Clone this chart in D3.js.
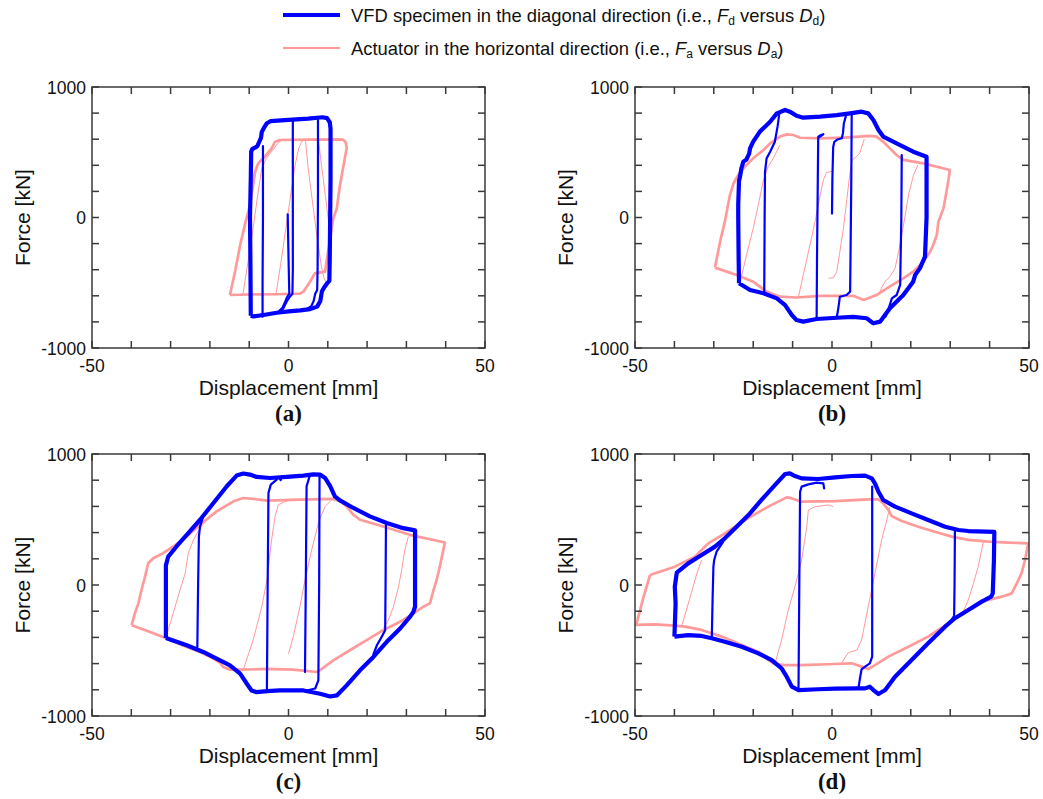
<!DOCTYPE html>
<html>
<head>
<meta charset="utf-8">
<script src="https://cdn.jsdelivr.net/npm/d3@7"></script>
<style>
  html, body { margin: 0; padding: 0; background: #fff; }
  svg { display: block; font-family: Arial, "Liberation Sans", sans-serif; }
</style>
</head>
<body>
<svg id="chart" width="1043" height="799"></svg>
<script>
// ---- axes ----
const xDomain = [-50, 50];
const yDomain = [-1000, 1000];
const xTicks = [-50, -40, -30, -20, -10, 0, 10, 20, 30, 40, 50];
const yTicks = [-1000, -800, -600, -400, -200, 0, 200, 400, 600, 800, 1000];
const xTickLabels = [-50, 0, 50];
const yTickLabels = [-1000, 0, 1000];
const xTitle = "Displacement [mm]";
const yTitle = "Force [kN]";
const panelLabels = ["(a)", "(b)", "(c)", "(d)"];

// ---- panel (a): VFD loop (Fd vs Dd) and actuator loop (Fa vs Da) ----
const vfdLoopA = [[-9.6,-752],[-9.7,-300],[-9.8,0],[-9.6,300],[-9.5,505],[-9.2,525],[-8.5,535],[-7.9,548],[-7.6,570],[-7.0,610],[-6.8,655],[-6.1,695],[-5.5,722],[-4.6,738],[0,748],[5,758],[8.6,768],[9.8,762],[10.5,730],[10.7,680],[10.7,300],[10.6,0],[10.5,-300],[10.4,-485],[9.8,-505],[9.2,-530],[8.5,-565],[8.1,-640],[7.3,-683],[5.5,-702],[3,-712],[0,-720],[-3,-730],[-6,-745],[-9,-758],[-9.6,-752]];
const vfdBranchesA = [
  [[-0.2,25],[0,-300],[0.2,-585],[-0.4,-612],[-0.9,-650],[-1.5,-690],[-2.6,-725],[-4,-738]],
  [[1.1,748],[1.1,200],[1.1,-400],[1.0,-585],[0.4,-605],[-0.4,-640],[-1.2,-690],[-2.0,-725]],
  [[7.5,762],[7.5,200],[7.4,-400],[7.3,-555],[6.8,-585],[6.4,-640],[5.8,-680],[4.5,-705]],
  [[-6.5,548],[-6.5,0],[-6.6,-500],[-6.6,-760]]
];
const actLoopA = [[-14.9,-594],[-13.5,-400],[-12.3,-211],[-10.9,-32],[-9.8,96],[-8.5,351],[-7.7,415],[-6.0,466],[-4.3,530],[-3.4,581],[-2.2,594],[5,596],[12,598],[13.9,596],[14.6,575],[14.8,530],[13.1,249],[12.3,70],[11.4,-7],[10.4,-200],[9.3,-415],[6.7,-428],[5.5,-492],[3.8,-568],[2.9,-584],[-3,-588],[-10,-590],[-14.9,-594]];
const actBranchesA = [
  [[-11.6,-590],[-10.2,-320],[-8.9,-60],[-7.8,180],[-6.8,380],[-5.6,455],[-4.2,510],[-2.8,565],[-1.8,592]],
  [[-3.2,-588],[-2.0,-360],[-0.8,-110],[0.4,140],[1.6,390],[2.6,530],[3.4,585],[4.3,596]],
  [[4.3,596],[5.0,380],[6.1,120],[7.2,-140],[8.4,-380],[9.0,-460],[9.6,-500]],
  [[7.6,597],[8.4,400],[9.4,160],[10.4,-80]]
];

// ---- panel (b) ----
const vfdLoopB = [[-23.6,-504],[-23.7,-300],[-23.8,0],[-23.8,100],[-23.6,280],[-23.3,320],[-23.0,377],[-22.5,428],[-21.7,445],[-21.0,492],[-20.8,530],[-20.0,581],[-18.3,658],[-15.7,734],[-14.0,798],[-11.9,824],[-10.7,811],[-9.0,780],[-7.3,765],[-3.0,773],[1.2,785],[4.6,798],[7.5,811],[9.2,798],[10.5,747],[11.8,671],[13.0,620],[16.4,568],[20.6,504],[24.0,466],[24.0,0],[23.6,-300],[22.3,-390],[21.1,-441],[20.6,-492],[18.1,-594],[14.7,-696],[12.2,-798],[10.5,-811],[8.8,-772],[5.4,-762],[1.2,-768],[-3.9,-778],[-7.3,-798],[-9.0,-786],[-10.2,-747],[-11.9,-671],[-14.0,-620],[-17.4,-581],[-20.8,-556],[-23.6,-504]];
const vfdBranchesB = [
  [[0,30],[0.1,300],[0.3,540],[0.6,580],[1.4,598],[2.5,608],[2.8,650],[3.0,720],[3.5,775]],
  [[5.0,790],[4.9,300],[4.7,-300],[4.6,-568],[3.7,-594],[2.0,-607],[1.6,-696],[1.2,-765]],
  [[-3.5,620],[-2.8,632],[-2.2,638],[-3.5,610],[-3.6,300],[-3.8,-300],[-3.9,-774]],
  [[-13.4,790],[-13.8,700],[-14.5,581],[-15.7,504],[-16.6,453],[-17.0,351],[-17.1,0],[-17.2,-581]],
  [[17.7,479],[17.6,0],[17.3,-517],[16.4,-594],[15.2,-620],[14.4,-696],[13.6,-760]]
];
const actLoopB = [[-29.7,-384],[-28.4,-185],[-27.2,-32],[-25.9,172],[-25.0,262],[-23.8,326],[-22.1,390],[-20.0,454],[-17.4,517],[-15.7,568],[-13.2,620],[-11.5,637],[-9.8,632],[-8.1,611],[-3.0,607],[3,612],[9.6,626],[11.3,620],[13.0,581],[14.7,530],[16.4,479],[18.1,441],[23.2,415],[29.9,364],[29.5,275],[28.3,70],[27.0,-32],[26.6,-134],[25.7,-211],[24.9,-262],[23.2,-339],[20.6,-415],[18.1,-466],[13.9,-543],[11.3,-594],[8.0,-632],[5.4,-600],[-3.0,-600],[-9.0,-613],[-13.2,-607],[-16.6,-568],[-20.0,-492],[-24.2,-441],[-29.7,-384]];
const actBranchesB = [
  [[-23.0,-454],[-21.7,-288],[-20.0,-83],[-18.7,96],[-17.4,287],[-16.2,390],[-14.9,454],[-13.2,556]],
  [[-8.5,-607],[-7.3,-441],[-5.6,-211],[-4.3,-32],[-3.5,96],[-2.2,287],[-1.4,345],[0.3,356]],
  [[-0.9,-466],[0.4,-461],[1.2,-415],[2.0,-262],[2.9,-83],[3.7,121],[4.5,326],[5.1,441],[6.2,466],[7.0,492],[8.2,600]],
  [[11.7,-594],[13.4,-492],[14.7,-454],[16.0,-390],[16.9,-262],[17.7,-134],[18.6,19],[19.4,172],[20.7,326],[21.8,402]]
];

// ---- panel (c) ----
const vfdLoopC = [[-31.2,-404],[-31.2,-100],[-31.2,150],[-30.6,217],[-28.5,294],[-25.9,383],[-22.5,498],[-19.1,626],[-15.7,754],[-13.2,835],[-11.5,851],[-9.8,843],[-8.1,825],[-4.7,817],[-0.4,825],[3.8,835],[6.3,845],[8.0,843],[9.3,817],[10.6,754],[11.8,677],[13.1,646],[16.5,588],[20.7,524],[25.0,473],[29.2,434],[32.2,417],[32.2,-166],[31.8,-204],[30.9,-243],[28.4,-332],[25.0,-434],[21.6,-549],[18.2,-651],[14.8,-766],[12.3,-843],[10.6,-851],[8.0,-830],[3.8,-805],[-2.2,-805],[-5.5,-810],[-8.1,-818],[-9.4,-805],[-10.6,-754],[-12.3,-677],[-14.9,-613],[-18.3,-562],[-21.7,-511],[-25.9,-460],[-31.2,-404]];
const vfdBranchesC = [
  [[-19.5,613],[-21.7,524],[-22.5,447],[-22.8,370],[-23.0,0],[-23.2,-473]],
  [[-3.0,805],[-4.5,766],[-5.1,703],[-5.3,0],[-5.5,-818]],
  [[-2.2,808],[-1.7,830],[-2.0,800]],
  [[5.5,843],[4.6,754],[4.4,0],[4.2,-664]],
  [[7.9,843],[7.8,0],[7.6,-728],[6.8,-790],[4.6,-805]],
  [[24.8,460],[24.7,0],[24.6,-345],[23.7,-396],[22.5,-460],[21.6,-530]]
];
const actLoopC = [[-39.9,-307],[-39.1,-217],[-38.2,-140],[-37.4,-38],[-36.5,64],[-35.7,166],[-34.4,204],[-31.9,243],[-29.3,294],[-25.9,370],[-22.5,460],[-18.3,562],[-14.0,639],[-11.5,664],[-8.9,657],[-5.5,644],[2.9,651],[11.4,657],[13.1,639],[14.8,600],[16.5,536],[18.2,498],[24.1,447],[30.9,383],[39.8,324],[39.4,268],[38.5,140],[37.7,38],[36.9,-38],[36.0,-140],[34.3,-166],[31.8,-217],[28.4,-281],[24.1,-345],[19.9,-421],[15.6,-498],[11.4,-575],[8.0,-651],[7.2,-664],[1.2,-646],[-5.5,-641],[-12.3,-646],[-14.9,-646],[-16.6,-626],[-17.4,-595],[-19.1,-562],[-22.5,-511],[-25.9,-473],[-31.0,-409],[-35.2,-358],[-39.9,-307]];
const actBranchesC = [
  [[-31.0,-383],[-29.3,-211],[-27.6,-38],[-26.3,89],[-25.5,243],[-24.2,345],[-22.5,434],[-20.8,498]],
  [[-11.5,-646],[-9.0,-421],[-6.8,-166],[-5.5,38],[-4.3,345],[-3.4,524],[-2.6,613],[-1.3,631],[-0.3,639]],
  [[0.0,-524],[1.2,-396],[2.9,-166],[4.2,38],[5.9,268],[7.6,473],[9.3,600],[10.6,639]],
  [[24.1,-332],[25.4,-268],[26.7,-166],[28.0,-13],[28.8,115],[29.6,268],[30.5,370]]
];

// ---- panel (d) ----
const vfdLoopD = [[-40.0,-394],[-39.9,-318],[-39.7,-140],[-39.9,-13],[-39.4,94],[-36.5,165],[-33.1,229],[-29.7,293],[-27.2,356],[-24.6,433],[-21.2,534],[-17.9,649],[-14.5,763],[-11.9,847],[-10.7,852],[-9.4,832],[-7.7,814],[-3.5,809],[0.8,822],[5.0,832],[8.4,835],[10.1,814],[10.9,776],[11.8,712],[13.0,649],[16.0,598],[20.2,547],[24.4,496],[28.7,445],[32.1,420],[34.6,412],[41.2,405],[41.1,191],[40.8,-64],[40.4,-89],[38.0,-127],[34.6,-191],[31.2,-254],[28.7,-318],[24.4,-445],[20.2,-573],[16.0,-700],[13.5,-802],[11.8,-832],[10.5,-802],[9.6,-776],[8.4,-789],[6.7,-789],[0.8,-791],[-3.5,-796],[-8.5,-802],[-10.2,-776],[-11.5,-700],[-12.8,-636],[-15.3,-573],[-18.7,-522],[-22.9,-471],[-27.2,-433],[-30.5,-407],[-33.1,-389],[-36.5,-382],[-40.0,-394]];
const vfdBranchesD = [
  [[-27.6,331],[-29.3,254],[-29.9,191],[-30.1,140],[-30.3,-100],[-30.5,-394]],
  [[-2.0,738],[-2.2,776],[-3.9,781],[-6.0,768],[-7.7,751],[-8.1,712],[-8.3,0],[-8.5,-802]],
  [[10.2,751],[10.2,0],[10.2,-547],[9.6,-598],[8.4,-623],[7.5,-644],[7.1,-712],[6.7,-789]],
  [[31.2,420],[31.1,0],[31.0,-236],[30.2,-272],[29.1,-305]]
];
const actLoopD = [[-46.2,76],[-48.0,-110],[-49.7,-305],[-44.9,-300],[-39.9,-310],[-37.3,-318],[-33.1,-343],[-28.0,-394],[-22.9,-458],[-18.7,-509],[-16.2,-573],[-14.5,-603],[-11.9,-611],[-7.7,-611],[0.8,-603],[5.0,-598],[7.5,-623],[9.2,-641],[10.9,-611],[14.3,-547],[19.4,-471],[24.4,-394],[29.5,-293],[32.9,-216],[38.0,-127],[43.1,-89],[45.6,-64],[46.9,13],[48.1,89],[49.0,191],[49.8,318],[44.8,323],[39.7,331],[34.6,344],[30.4,369],[26.1,407],[21.9,445],[17.7,489],[15.1,527],[14.3,573],[13.0,623],[11.8,654],[9.2,654],[0.8,641],[-7.7,636],[-10.2,661],[-11.5,669],[-16.2,598],[-22.1,496],[-27.2,394],[-31.4,318],[-34.8,216],[-39.9,140],[-46.2,76]];
const actBranchesD = [
  [[-38.2,-318],[-35.6,-51],[-34.3,89],[-33.1,191]],
  [[-14.5,-603],[-12.8,-420],[-11.1,-191],[-9.4,-13],[-7.7,191],[-6.4,445],[-6.0,573],[-4.3,598],[-0.9,611],[0.3,598]],
  [[2.4,-598],[4.1,-517],[6.3,-496],[7.5,-420],[9.2,-165],[10.9,89],[12.6,344],[13.9,496],[14.7,598]],
  [[38.4,331],[37.1,140],[35.9,13],[34.6,-115],[33.3,-204]]
];

const panels = [
  { vfdLoop: vfdLoopA, vfdBranches: vfdBranchesA, actLoop: actLoopA, actBranches: actBranchesA },
  { vfdLoop: vfdLoopB, vfdBranches: vfdBranchesB, actLoop: actLoopB, actBranches: actBranchesB },
  { vfdLoop: vfdLoopC, vfdBranches: vfdBranchesC, actLoop: actLoopC, actBranches: actBranchesC },
  { vfdLoop: vfdLoopD, vfdBranches: vfdBranchesD, actLoop: actLoopD, actBranches: actBranchesD }
];

// ---- styling / layout ----
const BLUE = "#0000ff";
const PINK = "#ff9a9a";
const FRAME = "#3a3a3a";
const frames = [
  { left: 92, top: 87, width: 393, height: 261 },
  { left: 635, top: 87, width: 394, height: 261 },
  { left: 92, top: 454, width: 393, height: 262 },
  { left: 635, top: 454, width: 394, height: 262 }
];

const svg = d3.select("#chart");

// legend
const legend = svg.append("g");
const legendItems = [
  { color: BLUE, width: 3.8, y: 15, pre: "VFD specimen in the diagonal direction (i.e., ", F: "F", D: "D", sub: "d" },
  { color: PINK, width: 1.8, y: 48, pre: "Actuator in the horizontal direction (i.e., ", F: "F", D: "D", sub: "a" }
];
legendItems.forEach(it => {
  legend.append("line").attr("x1", 283).attr("x2", 340).attr("y1", it.y).attr("y2", it.y)
    .attr("stroke", it.color).attr("stroke-width", it.width);
  const t = legend.append("text").attr("x", 351).attr("y", it.y + 7)
    .attr("font-size", 18.4).attr("fill", "#111");
  t.append("tspan").text(it.pre);
  t.append("tspan").attr("font-style", "italic").text(it.F);
  t.append("tspan").attr("font-size", 12).attr("dy", 3).text(it.sub);
  t.append("tspan").attr("dy", -3).text(" versus ");
  t.append("tspan").attr("font-style", "italic").text(it.D);
  t.append("tspan").attr("font-size", 12).attr("dy", 3).text(it.sub);
  t.append("tspan").attr("dy", -3).text(")");
});

panels.forEach((p, i) => {
  const f = frames[i];
  const x = d3.scaleLinear().domain(xDomain).range([f.left, f.left + f.width]);
  const y = d3.scaleLinear().domain(yDomain).range([f.top + f.height, f.top]);
  const g = svg.append("g");

  const clipId = "clip" + i;
  g.append("clipPath").attr("id", clipId).append("rect")
    .attr("x", f.left).attr("y", f.top).attr("width", f.width).attr("height", f.height);

  const line = d3.line().x(d => x(d[0])).y(d => y(d[1]));
  const plot = g.append("g").attr("clip-path", `url(#${clipId})`);

  // actuator (horizontal) loops
  p.actBranches.forEach(b => plot.append("path").attr("d", line(b)).attr("fill", "none")
    .attr("stroke", PINK).attr("stroke-width", 1).attr("stroke-linejoin", "round"));
  plot.append("path").attr("d", line(p.actLoop)).attr("fill", "none")
    .attr("stroke", PINK).attr("stroke-width", 2.7).attr("stroke-linejoin", "round");

  // VFD (diagonal) loops
  p.vfdBranches.forEach(b => plot.append("path").attr("d", line(b)).attr("fill", "none")
    .attr("stroke", BLUE).attr("stroke-width", 2.2).attr("stroke-linejoin", "round").attr("stroke-linecap", "round"));
  plot.append("path").attr("d", line(p.vfdLoop)).attr("fill", "none")
    .attr("stroke", BLUE).attr("stroke-width", 4.2).attr("stroke-linejoin", "round");

  // frame and inward ticks
  const axes = g.append("g").attr("stroke", FRAME).attr("stroke-width", 1.5);
  axes.append("rect").attr("x", f.left).attr("y", f.top).attr("width", f.width).attr("height", f.height).attr("fill", "none");
  const TL = 7;
  xTicks.forEach(t => {
    axes.append("line").attr("x1", x(t)).attr("x2", x(t)).attr("y1", f.top + f.height).attr("y2", f.top + f.height - TL);
    axes.append("line").attr("x1", x(t)).attr("x2", x(t)).attr("y1", f.top).attr("y2", f.top + TL);
  });
  yTicks.forEach(t => {
    axes.append("line").attr("y1", y(t)).attr("y2", y(t)).attr("x1", f.left).attr("x2", f.left + TL);
    axes.append("line").attr("y1", y(t)).attr("y2", y(t)).attr("x1", f.left + f.width).attr("x2", f.left + f.width - TL);
  });

  // tick labels
  xTickLabels.forEach(t => g.append("text").attr("x", x(t)).attr("y", f.top + f.height + 24)
    .attr("text-anchor", "middle").attr("font-size", 17.5).attr("fill", "#111").text(t));
  yTickLabels.forEach(t => g.append("text").attr("x", f.left - 6).attr("y", y(t) + 6.5)
    .attr("text-anchor", "end").attr("font-size", 17.5).attr("fill", "#111").text(t));

  // axis titles
  g.append("text").attr("x", f.left + f.width / 2).attr("y", f.top + f.height + 47)
    .attr("text-anchor", "middle").attr("font-size", 21).attr("fill", "#111").text(xTitle);
  g.append("text").attr("transform", `translate(${f.left - 62},${f.top + f.height / 2}) rotate(-90)`)
    .attr("text-anchor", "middle").attr("font-size", 21).attr("fill", "#111").text(yTitle);

  // panel label
  g.append("text").attr("x", f.left + f.width / 2).attr("y", f.top + f.height + 73)
    .attr("text-anchor", "middle").attr("font-size", 23).attr("font-weight", "bold")
    .attr("font-family", "'Times New Roman', 'Liberation Serif', serif").attr("fill", "#111")
    .text(panelLabels[i]);
});
</script>
</body>
</html>
